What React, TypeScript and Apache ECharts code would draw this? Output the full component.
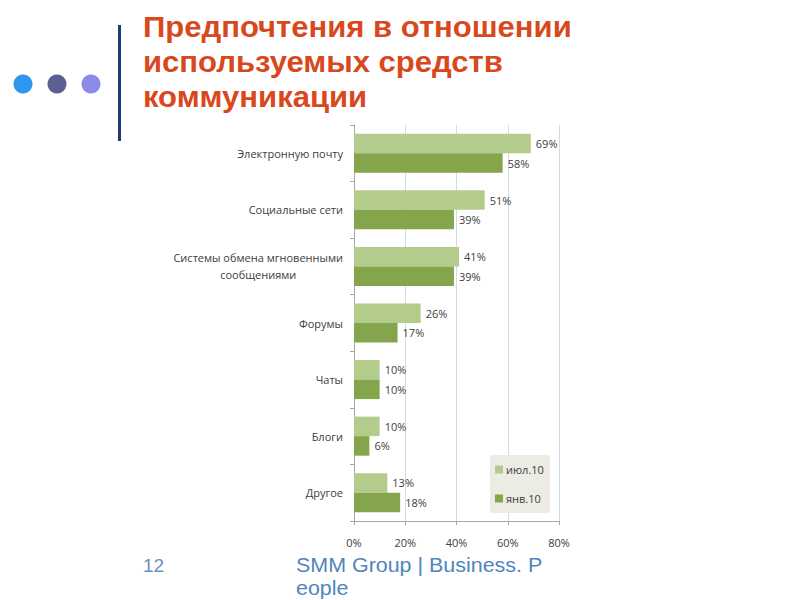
import React, { useEffect, useRef } from "react";
import * as echarts from "echarts";

const categories = [
  "Электронную почту",
  "Социальные сети",
  "Системы обмена мгновенными\nсообщениями",
  "Форумы",
  "Чаты",
  "Блоги",
  "Другое",
];
const julValues = [69, 51, 41, 26, 10, 10, 13];
const janValues = [58, 39, 39, 17, 10, 6, 18];
const seriesNames = ["июл.10", "янв.10"];
const xTicks = [0, 20, 40, 60, 80];
const titleLines = ["Предпочтения в отношении", "используемых средств", "коммуникации"];

export default function App() {
  const ref = useRef<HTMLDivElement>(null);
  useEffect(() => {
    if (!ref.current) return;
    const chart = echarts.init(ref.current, null, { renderer: "svg" });
    const labelFont = "'Open Sans', 'DejaVu Sans', sans-serif";
    const valueLabel = {
      show: true,
      position: "right",
      formatter: "{c}%",
      fontSize: 11,
      color: "#404040",
      fontFamily: labelFont,
      distance: 5,
    };
    chart.setOption({
      animation: false,
      backgroundColor: "#ffffff",
      grid: { left: 354, right: 241, top: 125, bottom: 79, containLabel: false },
      legend: {
        orient: "vertical",
        left: 490,
        top: 455,
        width: 58,
        backgroundColor: "#ecece4",
        padding: [9, 6, 9, 5],
        itemGap: 18,
        itemWidth: 8,
        itemHeight: 8,
        icon: "rect",
        data: seriesNames,
        textStyle: { fontSize: 11, color: "#404040", fontFamily: labelFont, padding: [0, 0, 0, -2] },
      },
      xAxis: {
        type: "value",
        min: 0,
        max: 80,
        interval: 20,
        axisLine: { show: true, lineStyle: { color: "#a8a8a8" } },
        axisTick: { show: true, length: 4, lineStyle: { color: "#a8a8a8" } },
        splitLine: { show: true, lineStyle: { color: "#cfdde6" } },
        axisLabel: {
          formatter: (v: number) => (xTicks.includes(v) ? v + "%" : ""),
          fontSize: 11,
          color: "#404040",
          fontFamily: labelFont,
          margin: 16,
        },
      },
      yAxis: {
        type: "category",
        data: categories,
        inverse: true,
        axisLine: { show: true, lineStyle: { color: "#a8a8a8" } },
        axisTick: { show: true, length: 4, lineStyle: { color: "#a8a8a8" } },
        axisLabel: {
          fontSize: 11,
          color: "#404040",
          fontFamily: labelFont,
          margin: 11,
          lineHeight: 17,
          formatter: (v: string) =>
            v
              .split("\n")
              .map((l) => "{c|" + l + "}")
              .join("\n"),
          rich: {
            c: { fontSize: 11, color: "#404040", fontFamily: labelFont, align: "center", lineHeight: 17 },
          },
        },
      },
      series: [
        {
          name: seriesNames[0],
          type: "bar",
          data: julValues,
          barGap: "0%",
          barCategoryGap: "31%",
          itemStyle: { color: "#b3cc8c" },
          label: valueLabel,
        },
        {
          name: seriesNames[1],
          type: "bar",
          data: janValues,
          barGap: "0%",
          barCategoryGap: "31%",
          itemStyle: { color: "#84a54c" },
          label: valueLabel,
        },
      ],
      graphic: [
        { type: "circle", shape: { cx: 23, cy: 84, r: 9.5 }, style: { fill: "#2f96f0" } },
        { type: "circle", shape: { cx: 57, cy: 84, r: 9.5 }, style: { fill: "#5b5f92" } },
        { type: "circle", shape: { cx: 91, cy: 84, r: 9.5 }, style: { fill: "#8c8ce8" } },
        { type: "rect", shape: { x: 118, y: 25, width: 3, height: 116 }, style: { fill: "#1f3a78" } },
        ...titleLines.map((t, i) => ({
          type: "text",
          x: 143,
          y: 27 + i * 35,
          scaleX: 1.07,
          style: {
            text: t,
            fill: "#d9471c",
            font: "bold 29px 'Liberation Sans', Arial, sans-serif",
            verticalAlign: "middle",
          },
        })),
        {
          type: "text",
          x: 143,
          y: 565,
          style: {
            text: "12",
            fill: "#6b8fba",
            font: "19px 'Liberation Sans', Arial, sans-serif",
            verticalAlign: "middle",
          },
        },
        {
          type: "text",
          x: 296,
          y: 565,
          scaleX: 1.1,
          style: {
            text: "SMM Group | Business. P",
            fill: "#4f85bd",
            font: "19.5px 'Liberation Sans', Arial, sans-serif",
            verticalAlign: "middle",
          },
        },
        {
          type: "text",
          x: 296,
          y: 588,
          scaleX: 1.1,
          style: {
            text: "eople",
            fill: "#4f85bd",
            font: "19.5px 'Liberation Sans', Arial, sans-serif",
            verticalAlign: "middle",
          },
        },
      ],
    });
    return () => chart.dispose();
  }, []);
  return <div ref={ref} style={{ position: "fixed", left: 0, top: 0, width: 800, height: 600 }} />;
}
